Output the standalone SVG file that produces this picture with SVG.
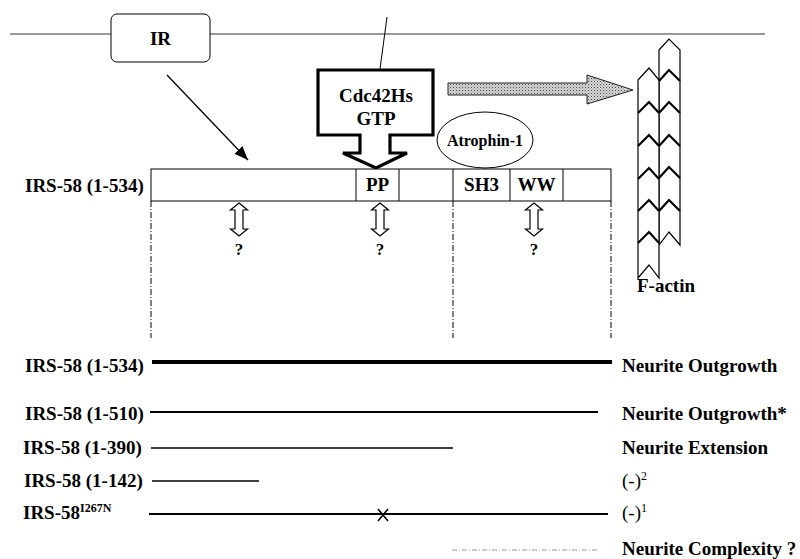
<svg xmlns="http://www.w3.org/2000/svg" width="800" height="559" viewBox="0 0 800 559">
<defs>
<style>
.t{font-family:"Liberation Serif","Times New Roman",serif;font-weight:bold;font-size:19px;fill:#000}
.r{font-family:"Liberation Serif","Times New Roman",serif;font-size:19px;fill:#000}
.q{font-family:"Liberation Serif","Times New Roman",serif;font-weight:bold;font-size:17px;fill:#000;text-anchor:middle}
.c{text-anchor:middle}
.thin{stroke:#000;stroke-width:1;fill:none}
.dd{stroke:#000;stroke-width:1;fill:none;stroke-dasharray:6 2 1 2}
.da{fill:#fff;stroke:#000;stroke-width:1.2}
.chev{fill:none;stroke:#000;stroke-width:2.2;stroke-linejoin:miter}
</style>
<pattern id="stip" width="3" height="3" patternUnits="userSpaceOnUse">
<rect width="3" height="3" fill="#d8d8d8"/>
<rect x="0" y="0" width="1" height="1" fill="#444"/>
<rect x="1.5" y="1.5" width="1" height="1" fill="#777"/>
</pattern>
<marker id="ah" viewBox="0 0 10 10" refX="10" refY="5" markerWidth="9" markerHeight="9" markerUnits="userSpaceOnUse" orient="auto">
<path d="M0,0 L10,5 L0,10 z" fill="#000"/>
</marker>
<marker id="ah2" viewBox="0 0 10 10" refX="10" refY="5" markerWidth="14" markerHeight="14" markerUnits="userSpaceOnUse" orient="auto">
<path d="M0,1 L10,5 L0,9 z" fill="#000"/>
</marker>
</defs>
<rect width="800" height="559" fill="#fff"/>

<g id="membrane">
<line x1="10" y1="34" x2="111" y2="34" stroke="#333" stroke-width="1"/>
<line x1="210" y1="34" x2="765" y2="34" stroke="#333" stroke-width="1"/>
</g>

<g id="IR">
<rect x="111" y="14" width="99" height="48" rx="6" fill="#fff" stroke="#000" stroke-width="1"/>
<text class="t c" x="160.5" y="45">IR</text>
</g>

<g id="Cdc42">
<path d="M318,70 L433,70 L433,135 L390,135 L390,153 L407,153 L376,168 L343,153 L360,153 L360,135 L318,135 Z" fill="#fff" stroke="#000" stroke-width="3.2" stroke-linejoin="miter"/>
<text class="t c" x="376" y="102">Cdc42Hs</text>
<text class="t c" x="376" y="125">GTP</text>
</g>

<g id="Atrophin">
<ellipse cx="485" cy="140" rx="48" ry="28" fill="#fff" stroke="#000" stroke-width="1"/>
<text class="t c" x="485" y="146" style="font-size:16px">Atrophin-1</text>
</g>

<g id="IRS58-domains">
<rect x="151" y="169" width="460" height="32" fill="#fff" stroke="#000" stroke-width="1"/>
<line x1="356" y1="169" x2="356" y2="201" class="thin"/>
<line x1="399" y1="169" x2="399" y2="201" class="thin"/>
<line x1="453" y1="169" x2="453" y2="201" class="thin"/>
<line x1="510" y1="169" x2="510" y2="201" class="thin"/>
<line x1="563" y1="169" x2="563" y2="201" class="thin"/>
<text class="t c" x="377.5" y="191">PP</text>
<text class="t c" x="481.5" y="191">SH3</text>
<text class="t c" x="536.5" y="191">WW</text>
<text class="t" x="25" y="192">IRS-58 (1-534)</text>
</g>

<g id="Factin">
<path d="M659,50 L669,39 L680,50 L680,245 L669,232 L659,245 Z" fill="#fff" stroke="#000" stroke-width="1.2"/>
<path d="M638,80 L649,68 L659,80 L659,278 L649,265 L638,278 Z" fill="#fff" stroke="#000" stroke-width="1.2"/>
<polyline class="chev" points="659,81 669,70 680,81"/>
<polyline class="chev" points="659,113 669,102 680,113"/>
<polyline class="chev" points="659,146 669,135 680,146"/>
<polyline class="chev" points="659,178 669,167 680,178"/>
<polyline class="chev" points="659,211 669,200 680,211"/>
<polyline class="chev" points="638,113 649,102 659,113"/>
<polyline class="chev" points="638,146 649,135 659,146"/>
<polyline class="chev" points="638,179 649,168 659,179"/>
<polyline class="chev" points="638,211 649,200 659,211"/>
<polyline class="chev" points="638,243 649,232 659,243"/>
<text class="t" x="637" y="292">F-actin</text>
</g>

<g id="questions">
<path class="da" d="M239,203 L247.5,210 L243,210 L243,229 L247.5,229 L239,236 L230.5,229 L235,229 L235,210 L230.5,210 Z"/>
<text class="q" x="239" y="255">?</text>
<path class="da" d="M380,203 L388.5,210 L384,210 L384,229 L388.5,229 L380,236 L371.5,229 L376,229 L376,210 L371.5,210 Z"/>
<text class="q" x="380" y="255">?</text>
<path class="da" d="M534,203 L542.5,210 L538,210 L538,229 L542.5,229 L534,236 L525.5,229 L530,229 L530,210 L525.5,210 Z"/>
<text class="q" x="534" y="255">?</text>
</g>

<g id="connectors">
<line x1="387" y1="17" x2="380" y2="69" stroke="#000" stroke-width="1"/>
<line x1="167" y1="75" x2="248" y2="160" stroke="#000" stroke-width="1.3" marker-end="url(#ah2)"/>
<path d="M448,83 L587,83 L587,75 L633,90 L587,104 L587,95 L448,95 Z" fill="url(#stip)" stroke="#222" stroke-width="1"/>
<line x1="151" y1="201" x2="151" y2="338" class="dd"/>
<line x1="453" y1="201" x2="453" y2="338" class="dd"/>
<line x1="611" y1="201" x2="611" y2="338" class="dd"/>
</g>

<g id="constructs">
<text class="t" x="25" y="372">IRS-58 (1-534)</text>
<line x1="152" y1="362" x2="612" y2="362" stroke="#000" stroke-width="4"/>
<text class="t" x="622" y="372">Neurite Outgrowth</text>

<text class="t" x="25" y="420">IRS-58 (1-510)</text>
<line x1="150" y1="412" x2="598" y2="412" stroke="#000" stroke-width="2"/>
<text class="t" x="622" y="420">Neurite Outgrowth*</text>

<text class="t" x="23" y="454">IRS-58 (1-390)</text>
<line x1="151" y1="448" x2="453" y2="448" stroke="#000" stroke-width="1.3"/>
<text class="t" x="622" y="454">Neurite Extension</text>

<text class="t" x="24" y="487">IRS-58 (1-142)</text>
<line x1="152" y1="481" x2="259" y2="481" stroke="#000" stroke-width="1.3"/>
<text class="r" x="622" y="487">(-)<tspan dy="-7" style="font-size:12px">2</tspan></text>

<text class="t" x="23" y="519">IRS-58<tspan dy="-7" style="font-size:12px">I267N</tspan></text>
<line x1="149" y1="514" x2="608" y2="514" stroke="#000" stroke-width="1.8"/>
<path d="M378,509 L388,521 M388,509 L378,521" stroke="#000" stroke-width="1.6"/>
<text class="r" x="622" y="519">(-)<tspan dy="-7" style="font-size:12px">1</tspan></text>

<line x1="452" y1="550" x2="598" y2="550" stroke="#999" stroke-width="1" stroke-dasharray="5 2 1 2"/>
<text class="t" x="622" y="555">Neurite Complexity ?</text>
</g>
</svg>
